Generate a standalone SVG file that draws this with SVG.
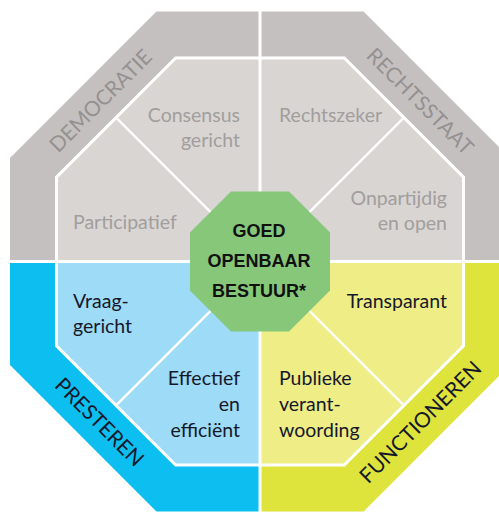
<svg xmlns="http://www.w3.org/2000/svg" width="499" height="515" viewBox="0 0 499 515">
<style>
.bg-g{fill:#c5c0c0}.in-g{fill:#d9d5d3}
.bg-b{fill:#0dbff0}.in-b{fill:#9ddbf7}
.bg-y{fill:#dee43b}.in-y{fill:#eeed86}
.div{stroke:#fff;stroke-width:3;fill:none}
.diag{stroke:#fff;stroke-width:2.3;fill:none}
.band{font-family:Lato,"Open Sans",sans-serif;font-size:21px;text-anchor:middle}
.lbl{font-family:Lato,"Open Sans",sans-serif;font-size:19.5px}
.gt{fill:#a19e9e}.gb{fill:#949191}.dk{fill:#16182a}
.end{text-anchor:end}
.core{font-family:"Liberation Sans",Arial,sans-serif;font-weight:bold;font-size:18px;text-anchor:middle;fill:#111}
</style>
<g id="band-democratie">
<polygon class="bg-g" points="260,11.5 156.45,11.5 10,157.95 10,261.5 260,261.5"/>
<text class="band gb" transform="translate(105.8,105.8) rotate(-45)">DEMOCRATIE</text>
</g>
<g id="band-rechtsstaat">
<polygon class="bg-g" points="260,11.5 363.55,11.5 510,157.95 510,261.5 260,261.5"/>
<text class="band gb" transform="translate(415,106.5) rotate(45)">RECHTSSTAAT</text>
</g>
<g id="band-presteren">
<polygon class="bg-b" points="10,261.5 10,365.05 156.45,511.5 260,511.5 260,261.5"/>
<text class="band dk" transform="translate(94.3,427.2) rotate(45)">PRESTEREN</text>
</g>
<g id="band-functioneren">
<polygon class="bg-y" points="510,261.5 510,365.05 363.55,511.5 260,511.5 260,261.5"/>
<text class="band dk" transform="translate(425.6,427.2) rotate(-45)">FUNCTIONEREN</text>
</g>
<g id="consensus">
<polygon class="in-g" points="260,58 175.71,58 116.1,117.6 260,261.5"/>
<text class="lbl gt end" x="240" y="122">Consensus</text>
<text class="lbl gt end" x="240" y="147">gericht</text>
</g>
<g id="participatief">
<polygon class="in-g" points="116.1,117.6 56.5,177.21 56.5,261.5 260,261.5"/>
<text class="lbl gt" x="73" y="229">Participatief</text>
</g>
<g id="rechtszeker">
<polygon class="in-g" points="260,58 344.29,58 403.9,117.6 260,261.5"/>
<text class="lbl gt" x="279" y="122">Rechtszeker</text>
</g>
<g id="onpartijdig">
<polygon class="in-g" points="403.9,117.6 463.5,177.21 463.5,261.5 260,261.5"/>
<text class="lbl gt end" x="447" y="205">Onpartijdig</text>
<text class="lbl gt end" x="447" y="230">en open</text>
</g>
<g id="vraaggericht">
<polygon class="in-b" points="56.5,261.5 56.5,345.79 116.1,405.4 260,261.5"/>
<text class="lbl dk" x="73" y="308">Vraag-</text>
<text class="lbl dk" x="73" y="333">gericht</text>
</g>
<g id="effectief">
<polygon class="in-b" points="116.1,405.4 175.71,465 260,465 260,261.5"/>
<text class="lbl dk end" x="240" y="385">Effectief</text>
<text class="lbl dk end" x="240" y="411">en</text>
<text class="lbl dk end" x="240" y="437">efficiënt</text>
</g>
<g id="transparant">
<polygon class="in-y" points="463.5,261.5 463.5,345.79 403.9,405.4 260,261.5"/>
<text class="lbl dk end" x="447" y="308">Transparant</text>
</g>
<g id="publieke">
<polygon class="in-y" points="403.9,405.4 344.29,465 260,465 260,261.5"/>
<text class="lbl dk" x="279" y="385">Publieke</text>
<text class="lbl dk" x="279" y="411">verant-</text>
<text class="lbl dk" x="279" y="437">woording</text>
</g>
<g id="connectors">
<polygon class="div" points="175.71,58 344.29,58 463.5,177.21 463.5,345.79 344.29,465 175.71,465 56.5,345.79 56.5,177.21"/>
<line class="div" x1="260" y1="0" x2="260" y2="515"/>
<line class="div" x1="0" y1="261.5" x2="499" y2="261.5"/>
<line class="diag" x1="116.1" y1="117.6" x2="260" y2="261.5"/>
<line class="diag" x1="403.9" y1="117.6" x2="260" y2="261.5"/>
<line class="diag" x1="116.1" y1="405.4" x2="260" y2="261.5"/>
<line class="diag" x1="403.9" y1="405.4" x2="260" y2="261.5"/>
</g>
<g id="goed-openbaar-bestuur">
<polygon fill="#86c77a" points="231,191.5 289,191.5 330,232.5 330,290.5 289,331.5 231,331.5 190,290.5 190,232.5"/>
<text class="core" x="259" y="237.3">GOED</text>
<text class="core" x="259" y="267.3">OPENBAAR</text>
<text class="core" x="259" y="296.7">BESTUUR*</text>
</g>
</svg>
